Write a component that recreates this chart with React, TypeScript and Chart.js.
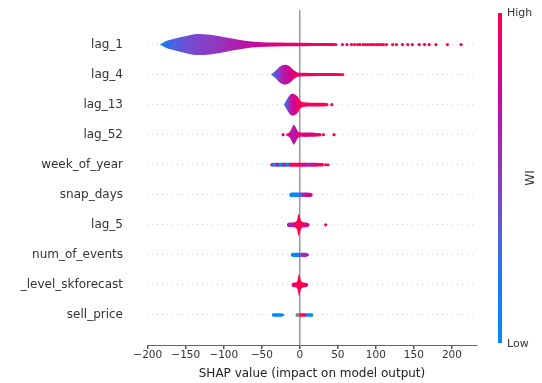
import React, { useEffect, useRef } from 'react';
import { Chart, registerables } from 'chart.js';

Chart.register(...registerables);

// ---------- data ----------
const FEATURES = ['lag_1', 'lag_4', 'lag_13', 'lag_52', 'week_of_year', 'snap_days', 'lag_5', 'num_of_events', '_level_skforecast', 'sell_price'];
const X_TICKS = [-200, -150, -100, -50, 0, 50, 100, 150, 200];
const X_TITLE = 'SHAP value (impact on model output)';
const CBAR_HIGH = 'High';
const CBAR_LOW = 'Low';
const CBAR_TITLE = 'WI';

// violin outlines: SHAP value, half width (row units), feature value (0 low .. 1 high, null = missing)
const LAG1_X = [-184, -177, -164, -151, -134, -118, -105, -89, -72, -55, -33, 0, 39, 48, 50];
const LAG1_W = [0, 0.1, 0.2, 0.28, 0.35, 0.33, 0.28, 0.2, 0.13, 0.085, 0.065, 0.057, 0.05, 0.045, 0];
const LAG1_C = [0, 0.22, 0.33, 0.4, 0.46, 0.5, 0.54, 0.62, 0.7, 0.76, 0.83, 0.88, 0.96, 1, 1];

const LAG4_X = [-38, -33, -26, -20, -13, -9, -4, 0, 13, 39, 55, 58, 59];
const LAG4_W = [0, 0.1, 0.27, 0.33, 0.27, 0.17, 0.08, 0.06, 0.055, 0.05, 0.045, 0.04, 0];
const LAG4_C = [0.05, 0.35, 0.55, 0.7, 0.8, 0.85, 0.9, 0.9, 0.93, 0.97, 1, 1, 1];

const LAG13_X = [-21, -17, -13, -10, -7, -3, 1, 5, 13, 26, 37, 38];
const LAG13_W = [0, 0.17, 0.32, 0.36, 0.35, 0.27, 0.12, 0.08, 0.065, 0.06, 0.045, 0];
const LAG13_C = [0.1, 0.4, 0.6, 0.72, 0.82, 0.9, 0.95, 0.95, 0.96, 0.97, 1, 1];

const LAG52_X = [-18, -15, -13, -10, -8, -6, -3, -1, 2, 8, 16, 22, 27, 29];
const LAG52_W = [0.03, 0.06, 0.1, 0.25, 0.33, 0.27, 0.13, 0.08, 0.07, 0.075, 0.07, 0.06, 0.05, 0];
const LAG52_C = [0.9, 0.85, 0.75, 0.68, 0.65, 0.7, 0.8, 0.85, 0.9, 0.85, 0.8, 0.9, 0.95, 1];

const WEEK_X = [-39, -37, -35, -33, -30, -27, -24, -21, -18, -15, -12, -8, -4, 0, 4, 8, 12, 16, 20, 24, 28, 31, 32];
const WEEK_W = [0.03, 0.06, 0.065, 0.06, 0.065, 0.065, 0.07, 0.07, 0.07, 0.07, 0.07, 0.07, 0.07, 0.07, 0.07, 0.07, 0.07, 0.065, 0.065, 0.06, 0.06, 0.05, 0];
const WEEK_C = [1, 0.6, 0, 0, 0.9, 0, 0, 0.8, 0.1, 0.2, 0.95, 1, 1, 0.9, 0.85, 0.7, 0.6, 0.65, 0.85, 0.95, 1, 1, 1];

const SNAP_X = [-14, -12, -8, -4, -1, 2, 5, 8, 11, 14, 17];
const SNAP_W = [0.03, 0.07, 0.075, 0.075, 0.075, 0.075, 0.075, 0.075, 0.07, 0.07, 0.03];
const SNAP_C = [0, 0, 0.05, 0.05, 0.1, 0.5, 0.55, 0.7, 0.8, 0.85, 0.9];

const LAG5_X = [-17, -15, -11, -7, -5, -3.5, -2.5, -1.3, 0, 1.2, 3, 6, 10, 13];
const LAG5_W = [0.03, 0.07, 0.075, 0.085, 0.11, 0.17, 0.3, 0.37, 0.28, 0.16, 0.1, 0.08, 0.07, 0.03];
const LAG5_C = [0.6, 0.6, 0.65, 0.8, 0.95, 1, 1, 1, 1, 1, 0.95, 0.85, 0.8, 0.8];

const EVENTS_X = [-12, -10, -6, -3, 0, 3, 6, 9, 12];
const EVENTS_W = [0.03, 0.065, 0.07, 0.07, 0.07, 0.07, 0.07, 0.065, 0.03];
const EVENTS_C = [0, 0, 0.02, 0.05, 0.3, 0.55, 0.6, 0.6, 0.6];

const LEVEL_X = [-11, -9, -6, -4, -2.5, -1.3, 0, 1.3, 3, 5, 8, 11];
const LEVEL_W = [0.03, 0.07, 0.08, 0.1, 0.2, 0.36, 0.3, 0.15, 0.1, 0.08, 0.07, 0.03];
const LEVEL_C = [0.9, 0.9, 0.95, 1, 1, 1, 1, 1, 1, 1, 0.95, 0.95];

const PRICE_X = [-37, -35, -30, -25, -21, -20, -6, -5, -3, -1, 1, 3, 5, 7, 9, 11, 14, 17, 18];
const PRICE_W = [0.03, 0.06, 0.06, 0.06, 0.03, 0, 0, 0.05, 0.06, 0.06, 0.06, 0.06, 0.06, 0.06, 0.06, 0.06, 0.06, 0.05, 0];
const PRICE_C: (number | null)[] = [0, 0, 0, 0, 0, 0, null, null, null, null, 1, 1, 1, 1, 0.05, 0, 0, 0, 0];

// isolated points
const LAG1_DOT_X = [56, 62, 68, 72, 76, 79, 83, 86, 89, 92, 95, 98, 101, 104, 107, 110, 114, 122, 127, 135, 142, 148, 157, 164, 170, 179, 194, 212];
const LAG1_DOT_C = [1, 1, 0.95, 1, 1, 0.95, 1, 1, 1, 1, 0.95, 1, 1, 1, 1, 1, 1, 1, 1, 0.95, 1, 1, 1, 1, 1, 1, 1, 1];
const LAG13_DOT_X = [42];
const LAG13_DOT_C = [1];
const LAG52_DOT_X = [-22, 31, 45];
const LAG52_DOT_C = [0.9, 1, 1];
const WEEK_DOT_X = [34, 37];
const WEEK_DOT_C = [1, 1];
const LAG5_DOT_X = [34];
const LAG5_DOT_C = [1];

// ---------- colour map ----------
const CMAP_STOPS: number[][] = [
  [0, 0, 139, 251],
  [0.2, 30, 120, 240],
  [0.35, 90, 92, 222],
  [0.5, 140, 60, 195],
  [0.62, 170, 35, 178],
  [0.75, 200, 8, 155],
  [0.88, 232, 0, 115],
  [1, 255, 0, 81],
];
const MISSING_COLOR = 'rgb(128,128,128)';

function cmap(t: number | null): string {
  if (t === null || t === undefined) return MISSING_COLOR;
  const v = Math.max(0, Math.min(1, t));
  for (let i = 1; i < CMAP_STOPS.length; i++) {
    const a = CMAP_STOPS[i - 1];
    const b = CMAP_STOPS[i];
    if (v <= b[0]) {
      const f = (v - a[0]) / (b[0] - a[0]);
      const r = Math.round(a[1] + (b[1] - a[1]) * f);
      const g = Math.round(a[2] + (b[2] - a[2]) * f);
      const bl = Math.round(a[3] + (b[3] - a[3]) * f);
      return `rgb(${r},${g},${bl})`;
    }
  }
  return 'rgb(255,0,81)';
}

type Violin = { xs: number[]; ws: number[]; cs: (number | null)[] };
const VIOLINS: Violin[] = [
  { xs: LAG1_X, ws: LAG1_W, cs: LAG1_C },
  { xs: LAG4_X, ws: LAG4_W, cs: LAG4_C },
  { xs: LAG13_X, ws: LAG13_W, cs: LAG13_C },
  { xs: LAG52_X, ws: LAG52_W, cs: LAG52_C },
  { xs: WEEK_X, ws: WEEK_W, cs: WEEK_C },
  { xs: SNAP_X, ws: SNAP_W, cs: SNAP_C },
  { xs: LAG5_X, ws: LAG5_W, cs: LAG5_C },
  { xs: EVENTS_X, ws: EVENTS_W, cs: EVENTS_C },
  { xs: LEVEL_X, ws: LEVEL_W, cs: LEVEL_C },
  { xs: PRICE_X, ws: PRICE_W, cs: PRICE_C },
];
const DOTS = [
  { row: 0, xs: LAG1_DOT_X, cs: LAG1_DOT_C },
  { row: 2, xs: LAG13_DOT_X, cs: LAG13_DOT_C },
  { row: 3, xs: LAG52_DOT_X, cs: LAG52_DOT_C },
  { row: 4, xs: WEEK_DOT_X, cs: WEEK_DOT_C },
  { row: 6, xs: LAG5_DOT_X, cs: LAG5_DOT_C },
];

const rowY = (i: number) => FEATURES.length - 1 - i;

function violinFill(chart: any, v: Violin) {
  const area = chart.chartArea;
  const sx = chart.scales && chart.scales.x;
  if (!area || !sx) return cmap(v.cs[0]);
  const p0 = sx.getPixelForValue(v.xs[0]);
  const p1 = sx.getPixelForValue(v.xs[v.xs.length - 1]);
  const g = chart.ctx.createLinearGradient(p0, 0, p1, 0);
  v.xs.forEach((x, k) => {
    const pos = Math.max(0, Math.min(1, (sx.getPixelForValue(x) - p0) / (p1 - p0)));
    g.addColorStop(pos, cmap(v.cs[k]));
  });
  return g;
}

const colorbarPlugin = {
  id: 'colorbar',
  afterDraw(chart: any) {
    const { ctx, chartArea } = chart;
    const x = chartArea.right + 21;
    const top = chartArea.top + 3;
    const bottom = chartArea.bottom - 2;
    const g = ctx.createLinearGradient(0, bottom, 0, top);
    CMAP_STOPS.forEach((s) => g.addColorStop(s[0], `rgb(${s[1]},${s[2]},${s[3]})`));
    ctx.save();
    ctx.fillStyle = g;
    ctx.fillRect(x, top, 4, bottom - top);
    ctx.fillStyle = '#333333';
    ctx.font = '11px "DejaVu Sans"';
    ctx.textBaseline = 'middle';
    ctx.textAlign = 'left';
    ctx.fillText(CBAR_HIGH, x + 9, top + 0.5);
    ctx.fillText(CBAR_LOW, x + 9, bottom + 1.5);
    ctx.translate(x + 33, (top + bottom) / 2);
    ctx.rotate(-Math.PI / 2);
    ctx.textAlign = 'center';
    ctx.font = '12px "DejaVu Sans"';
    ctx.fillText(CBAR_TITLE, 0, 0);
    ctx.restore();
  },
};

function buildDatasets() {
  const ds: any[] = [];
  DOTS.forEach((d) => {
    ds.push({
      type: 'line',
      data: d.xs.map((x) => ({ x, y: rowY(d.row) })),
      showLine: false,
      pointRadius: 1.6,
      pointBorderWidth: 0,
      pointBackgroundColor: d.cs.map((c) => cmap(c)),
      order: 0,
    });
  });
  VIOLINS.forEach((v, i) => {
    const c = rowY(i);
    ds.push({
      type: 'line',
      data: v.xs.map((x, k) => ({ x, y: c + v.ws[k] })),
      borderWidth: 0,
      borderColor: 'rgba(0,0,0,0)',
      pointRadius: 0,
      cubicInterpolationMode: 'monotone',
      fill: '+1',
      backgroundColor: (ctx: any) => violinFill(ctx.chart, v),
      order: 1,
    });
    ds.push({
      type: 'line',
      data: v.xs.map((x, k) => ({ x, y: c - v.ws[k] })),
      borderWidth: 0,
      borderColor: 'rgba(0,0,0,0)',
      pointRadius: 0,
      cubicInterpolationMode: 'monotone',
      fill: false,
      order: 1,
    });
  });
  return ds;
}

export default function App() {
  const ref = useRef<HTMLCanvasElement>(null);
  useEffect(() => {
    Chart.defaults.font.family = '"DejaVu Sans", sans-serif';
    const chart = new Chart(ref.current as HTMLCanvasElement, {
      type: 'line',
      data: { datasets: buildDatasets() },
      plugins: [colorbarPlugin],
      options: {
        animation: false,
        responsive: false,
        devicePixelRatio: 1,
        layout: { padding: { top: 10, right: 65, left: 0, bottom: 0 } },
        plugins: { legend: { display: false }, tooltip: { enabled: false } },
        scales: {
          x: {
            type: 'linear',
            min: -201,
            max: 233,
            afterFit: (s: any) => { s.height = 38; s.paddingLeft = 0; s.paddingRight = 0; },
            afterBuildTicks: (s: any) => { s.ticks = X_TICKS.map((value) => ({ value })); },
            grid: {
              color: (c: any) => (c.tick && c.tick.value === 0 ? '#999999' : 'rgba(0,0,0,0)'),
              lineWidth: 1.5,
              tickColor: '#555555',
              tickLength: 4,
            },
            border: { display: true, color: '#666666', width: 1 },
            ticks: {
              autoSkip: false,
              maxRotation: 0,
              padding: 0,
              color: '#333333',
              font: { size: 10.5 },
              callback: (v: any) => (v < 0 ? '\u2212' + Math.abs(v) : String(v)),
            },
            title: {
              display: true,
              text: X_TITLE,
              color: '#222222',
              font: { size: 12 },
              padding: { top: 0, bottom: 2 },
            },
          },
          y: {
            type: 'linear',
            min: -1,
            max: 10.15,
            afterFit: (s: any) => { s.width = 147; s.paddingTop = 0; s.paddingBottom = 0; },
            afterBuildTicks: (s: any) => { s.ticks = FEATURES.map((_, i) => ({ value: i })); },
            grid: { color: '#cccccc', lineWidth: 0.8, drawTicks: false },
            border: { display: false, dash: [1, 4] },
            ticks: {
              padding: 24,
              color: '#333333',
              font: { size: 12 },
              callback: (v: any) => FEATURES[FEATURES.length - 1 - v] ?? '',
            },
          },
        },
      } as any,
    });
    return () => chart.destroy();
  }, []);
  return (
    <div style={{ position: 'fixed', left: 0, top: 0, width: 542, height: 383, background: '#fff' }}>
      <canvas ref={ref} width={542} height={383} />
    </div>
  );
}
